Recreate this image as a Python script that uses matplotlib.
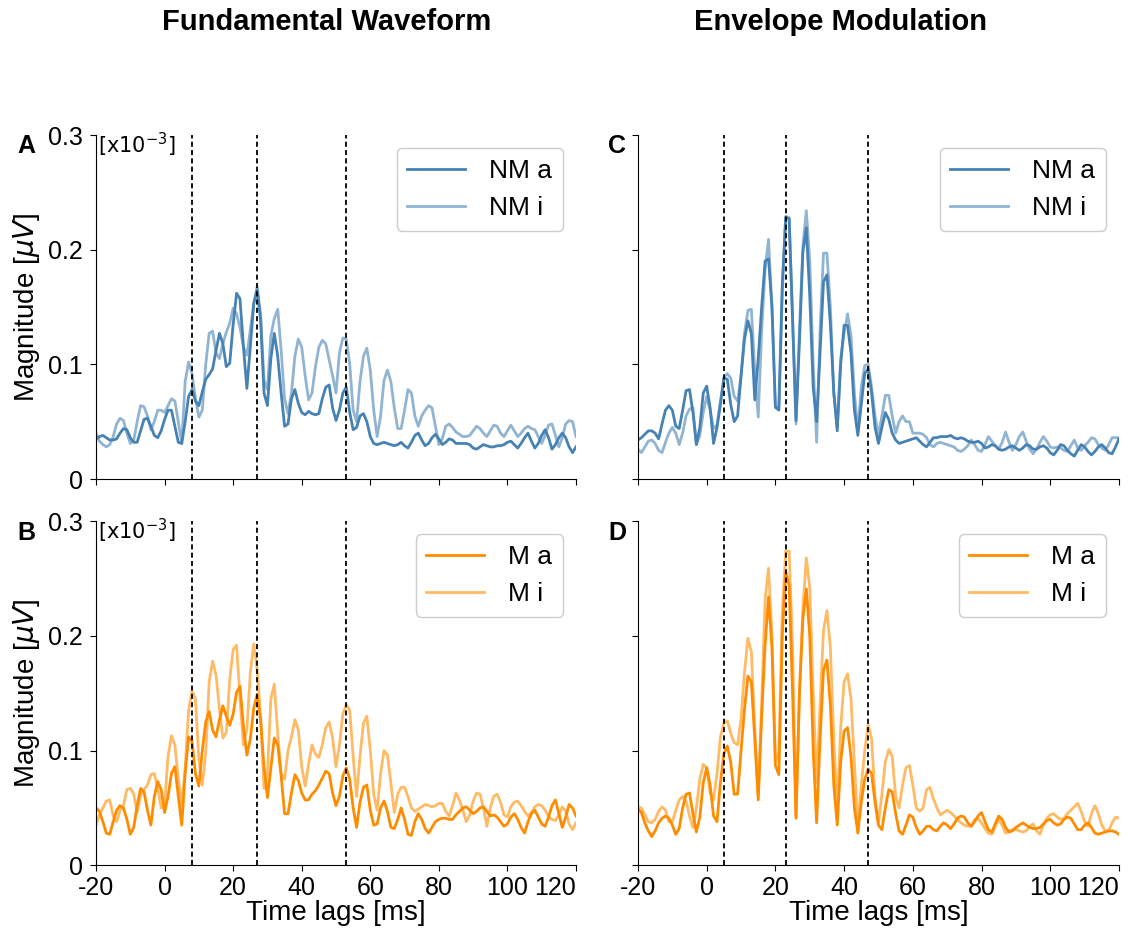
import numpy as np
import matplotlib.pyplot as plt

plt.rcParams['font.family'] = ['Liberation Sans', 'DejaVu Sans']
plt.rcParams['axes.unicode_minus'] = False

lags = np.arange(-20, 121)  # ms

# magnitudes, in units of 1e-3 of the axis (0..300 -> 0..0.3)
fund_nm_a = [35, 37, 38, 36, 34, 34, 35, 40, 44, 43,
             36, 32, 32, 42, 52, 53, 46, 38, 36, 42,
             52, 60, 60, 46, 32, 31, 50, 72, 78, 68,
             64, 76, 87, 91, 96, 112, 127, 118, 98, 101,
             135, 162, 157, 115, 79, 115, 153, 165, 139, 75,
             64, 105, 127, 107, 75, 46, 48, 70, 78, 66,
             58, 56, 59, 57, 56, 57, 70, 80, 82, 62,
             51, 60, 75, 80, 58, 43, 45, 55, 57, 50,
             37, 31, 30, 31, 32, 31, 30, 29, 30, 32,
             29, 27, 32, 38, 40, 34, 29, 31, 36, 39,
             35, 30, 32, 35, 34, 31, 31, 31, 31, 30,
             27, 26, 28, 30, 29, 28, 28, 29, 29, 30,
             32, 33, 30, 27, 31, 36, 40, 33, 27, 31,
             38, 43, 36, 26, 30, 36, 40, 36, 28, 23, 28]
fund_nm_i = [40, 33, 30, 28, 30, 37, 48, 53, 51, 40,
             31, 34, 50, 64, 63, 55, 43, 50, 60, 60,
             58, 64, 70, 68, 50, 31, 85, 102, 92, 70,
             54, 60, 100, 127, 129, 110, 105, 118, 128, 136,
             149, 144, 132, 115, 108, 130, 153, 168, 144, 86,
             78, 125, 140, 148, 112, 70, 57, 75, 107, 122,
             115, 90, 69, 75, 98, 115, 121, 118, 104, 90,
             75, 110, 123, 122, 100, 60, 50, 85, 107, 114,
             95, 60, 37, 55, 86, 95, 85, 62, 44, 44,
             60, 78, 75, 55, 46, 55, 60, 64, 62, 46,
             30, 35, 46, 48, 45, 41, 39, 37, 37, 38,
             42, 46, 44, 40, 37, 42, 47, 46, 40, 37,
             42, 47, 42, 37, 40, 44, 46, 44, 43, 37,
             31, 38, 47, 48, 38, 28, 36, 48, 51, 50, 37]
fund_m_a = [50, 47, 38, 28, 27, 38, 48, 52, 50, 40,
            27, 33, 52, 67, 64, 48, 35, 60, 73, 66,
            46, 60, 80, 86, 60, 35, 80, 112, 108, 80,
            69, 100, 125, 134, 118, 112, 127, 139, 130, 122,
            132, 151, 156, 121, 96, 110, 137, 149, 127, 86,
            59, 85, 111, 105, 78, 45, 45, 63, 79, 74,
            63, 57, 57, 62, 65, 70, 76, 82, 80, 63,
            52, 60, 78, 85, 75, 50, 33, 55, 68, 70,
            48, 35, 36, 50, 56, 47, 33, 32, 40, 50,
            40, 27, 26, 38, 45, 40, 32, 28, 33, 38,
            40, 41, 41, 40, 40, 44, 47, 50, 51, 48,
            45, 47, 50, 51, 47, 43, 44, 42, 38, 34,
            36, 42, 45, 40, 33, 28, 38, 45, 48, 42,
            36, 34, 42, 52, 57, 45, 33, 42, 53, 50, 43]
fund_m_i = [35, 44, 50, 56, 57, 43, 38, 48, 52, 66,
            67, 62, 46, 61, 66, 70, 79, 80, 67, 50,
            52, 95, 113, 105, 75, 52, 85, 135, 152, 145,
            92, 70, 98, 160, 178, 166, 136, 111, 116, 162,
            188, 192, 145, 105, 118, 168, 193, 171, 130, 67,
            79, 145, 158, 115, 80, 75, 100, 112, 127, 118,
            86, 69, 88, 105, 97, 94, 105, 120, 125, 111,
            86, 105, 132, 140, 135, 95, 60, 95, 124, 130,
            100, 62, 48, 80, 100, 96, 72, 46, 62, 68,
            68, 60, 50, 47, 49, 51, 53, 52, 51, 52,
            54, 54, 47, 43, 52, 63, 57, 48, 38, 44,
            56, 63, 62, 50, 34, 50, 60, 62, 55, 44,
            42, 51, 55, 56, 52, 47, 43, 46, 51, 53,
            52, 48, 43, 40, 39, 44, 51, 47, 36, 31, 37]
env_nm_a = [34, 36, 39, 42, 42, 40, 35, 48, 60, 64,
            60, 46, 44, 60, 77, 78, 58, 30, 45, 75,
            81, 62, 31, 45, 65, 88, 87, 65, 50, 55,
            90, 122, 138, 127, 69, 105, 150, 190, 192, 150,
            63, 60, 170, 228, 227, 140, 51, 120, 198, 219,
            160, 80, 50, 110, 172, 178, 135, 75, 42, 100,
            134, 134, 110, 60, 38, 65, 92, 96, 75, 45,
            31, 45, 58, 52, 40, 34, 31, 32, 33, 34,
            35, 36, 33, 30, 28, 32, 36, 36, 37, 37,
            37, 38, 36, 35, 36, 35, 33, 32, 32, 33,
            31, 27, 28, 30, 29, 26, 25, 26, 28, 29,
            27, 25, 27, 30, 29, 26, 26, 28, 29, 27,
            23, 21, 25, 30, 29, 25, 22, 20, 25, 30,
            28, 24, 21, 24, 28, 30, 27, 23, 22, 28, 35]
env_nm_i = [26, 23, 28, 33, 34, 31, 25, 23, 32, 40,
            45, 40, 30, 40, 55, 61, 62, 30, 38, 58,
            72, 60, 44, 47, 68, 88, 92, 88, 72, 68,
            90, 127, 147, 148, 95, 54, 130, 183, 209, 150,
            62, 61, 160, 229, 228, 140, 48, 130, 203, 234,
            190, 100, 32, 130, 197, 197, 150, 75, 45, 105,
            127, 144, 125, 75, 42, 80, 99, 100, 80, 55,
            38, 55, 73, 73, 55, 40, 50, 55, 50, 50,
            40, 40, 40, 39, 36, 30, 28, 31, 32, 31,
            30, 29, 28, 25, 24, 26, 29, 34, 30, 25,
            24, 30, 37, 33, 29, 26, 32, 41, 32, 25,
            30, 37, 41, 33, 26, 22, 26, 32, 37, 33,
            28, 27, 28, 27, 25, 24, 29, 34, 27, 25,
            29, 32, 36, 35, 30, 27, 25, 30, 36, 36, 36]
env_m_a = [49, 46, 37, 30, 25, 30, 37, 41, 43, 41,
           35, 27, 32, 50, 62, 63, 45, 29, 42, 72,
           85, 70, 43, 38, 72, 97, 104, 90, 62, 62,
           100, 136, 165, 160, 110, 57, 130, 192, 234, 190,
           87, 79, 200, 256, 244, 150, 41, 150, 215, 241,
           200, 100, 37, 110, 170, 179, 140, 70, 35, 90,
           117, 120, 95, 50, 28, 55, 75, 84, 80, 55,
           35, 31, 50, 66, 64, 45, 30, 27, 35, 44,
           42, 33, 27, 30, 34, 34, 31, 30, 34, 37,
           35, 32, 36, 41, 43, 42, 37, 34, 38, 43,
           46, 38, 31, 29, 36, 43, 40, 33, 29, 30,
           33, 35, 37, 35, 33, 32, 32, 33, 36, 39,
           40, 37, 35, 36, 40, 42, 41, 36, 31, 31,
           35, 37, 33, 28, 27, 28, 29, 30, 30, 29, 27]
env_m_i = [51, 50, 44, 38, 37, 40, 47, 51, 48, 38,
           38, 48, 57, 60, 56, 43, 33, 50, 75, 88,
           85, 63, 57, 80, 112, 124, 126, 115, 107, 105,
           128, 168, 198, 186, 120, 60, 140, 232, 259, 200,
           90, 98, 220, 274, 274, 190, 43, 150, 224, 268,
           242, 150, 72, 140, 205, 222, 190, 110, 48, 120,
           160, 167, 145, 90, 34, 70, 100, 123, 110, 60,
           37, 62, 90, 101, 95, 60, 50, 70, 85, 87,
           70, 50, 47, 50, 66, 68, 58, 50, 44, 46,
           48, 46, 43, 40, 37, 35, 34, 34, 40, 41,
           37, 32, 28, 27, 34, 40, 35, 28, 30, 31,
           31, 30, 29, 30, 34, 36, 30, 27, 35, 41,
           44, 45, 42, 40, 41, 45, 48, 51, 54, 47,
           38, 34, 45, 52, 45, 35, 30, 30, 37, 42, 41]

fund_peaks = [8, 27, 53]
env_peaks = [5, 23, 47]

blue = '#4682B4'
orange = '#FF8C00'

fig = plt.figure(figsize=(11.46, 9.33), dpi=100)
lefts = [0.0838, 0.5567]
widths = [0.4188, 0.4197]
bottoms = [0.4866, 0.0726]
h = 0.3687

panels = [
    (0, 0, 'A', fund_nm_a, fund_nm_i, 'NM', blue, fund_peaks),
    (0, 1, 'B', fund_m_a, fund_m_i, 'M', orange, fund_peaks),
    (1, 0, 'C', env_nm_a, env_nm_i, 'NM', blue, env_peaks),
    (1, 1, 'D', env_m_a, env_m_i, 'M', orange, env_peaks),
]

for col, row, letter, ya, yi, grp, c, peaks in panels:
    ax = fig.add_axes([lefts[col], bottoms[row], widths[col], h])
    ax.plot(lags, np.array(ya) / 1000, color=c, lw=2, label=grp + ' a')
    ax.plot(lags, np.array(yi) / 1000, color=c, lw=2, alpha=0.6, label=grp + ' i')
    for p in peaks:
        ax.axvline(p, color='k', lw=1.3, ls=(0, (2.8, 1.8)))
    ax.set_xlim(-20, 120)
    ax.set_ylim(0, 0.3)
    ax.set_xticks(range(-20, 121, 20))
    ax.set_yticks([0, 0.1, 0.2, 0.3])
    ax.spines['top'].set_visible(False)
    ax.spines['right'].set_visible(False)
    ax.tick_params(labelsize=18, length=4.5)
    ax.tick_params(axis='y', pad=5)
    if col == 0:
        ax.set_yticklabels(['0', '0.1', '0.2', '0.3'])
        ax.set_ylabel(r'Magnitude [$\mu V$]', fontsize=20)
        ax.text(0.005, 0.971, r'[x10$^{-3}$]', transform=ax.transAxes,
                fontsize=15, family='DejaVu Sans', va='center', ha='left')
    else:
        ax.set_yticklabels([])
    if row == 1:
        ax.set_xlabel('Time lags [ms]', fontsize=20, labelpad=0)
        ax.get_xticklabels()[-1].set_ha('right')
    else:
        ax.set_xticklabels([])
    ax.legend(loc='upper right', fontsize=19, handlelength=2.2,
              handletextpad=0.9, framealpha=1, edgecolor='#cccccc')
    lx = 26 if col == 0 else 617
    ly = 146 if row == 0 else 533
    fig.text(lx / 1146, 1 - ly / 933, letter, fontsize=18, fontweight='bold',
             ha='center', va='center')

fig.text(327 / 1146, 1 - 22 / 933, 'Fundamental Waveform', fontsize=21,
         fontweight='bold', ha='center', va='center')
fig.text(840 / 1146, 1 - 22 / 933, 'Envelope Modulation', fontsize=21,
         fontweight='bold', ha='center', va='center')

fig.savefig('out.png', dpi=100)
